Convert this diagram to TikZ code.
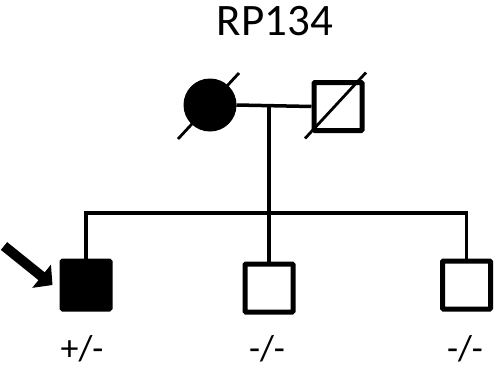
\documentclass[tikz,border=0pt]{standalone}
\usepackage{fontspec}
\setmainfont{Carlito}
\usetikzlibrary{positioning,calc,arrows.meta}

\begin{document}
\begin{tikzpicture}[x=1pt,y=-1pt,
  male/.style={draw,rectangle,line width=5pt,minimum size=48pt,inner sep=0pt,rounded corners=1pt},
  female/.style={draw,circle,fill=black,line width=1pt,minimum size=52pt,inner sep=0pt},
  line/.style={line width=3.5pt},
  dead/.style={line width=2.8pt},
  geno/.style={anchor=base,font=\fontsize{36}{40}\selectfont,inner sep=0pt}]
\useasboundingbox (0,0) rectangle (497,370);
\node[anchor=base,font=\fontsize{45}{50}\selectfont,inner sep=0pt] (title) at (275,35) {RP134};
% parents
\node[female] (I1) at (210,105) {};
\node[male] (I2) at (338,106.5) {};
\draw[dead] ([shift={(-32,34)}]I1.center) -- ([shift={(29,-32)}]I1.center);
\draw[dead] ([shift={(-33,32)}]I2.center) -- ([shift={(28,-34)}]I2.center);
\draw[line] (I1.east) -- (I2.west);
\coordinate (mid) at (269,105);
\coordinate (sib) at (269,213);
% children
\node[male,fill=black] (II1) at (86,285) {};
\node[male] (II2) at (269,288) {};
\node[male] (II3) at (466.5,285) {};
\draw[line] (mid) -- (II2.north);
\draw[line] (II1.north) -- (II1.north |- sib) -- (II3.north |- sib) -- (II3.north);
% proband
\coordinate (ptail) at (4,246);
\draw[line width=10pt,-{Triangle[length=14pt,width=29pt]}] (ptail) -- ([xshift=-7pt]II1.west);
\node[geno] (g1) at (82,360) {+/-};
\node[geno] (g2) at (267,360) {-/-};
\node[geno] (g3) at (465,360) {-/-};
\end{tikzpicture}
\end{document}
